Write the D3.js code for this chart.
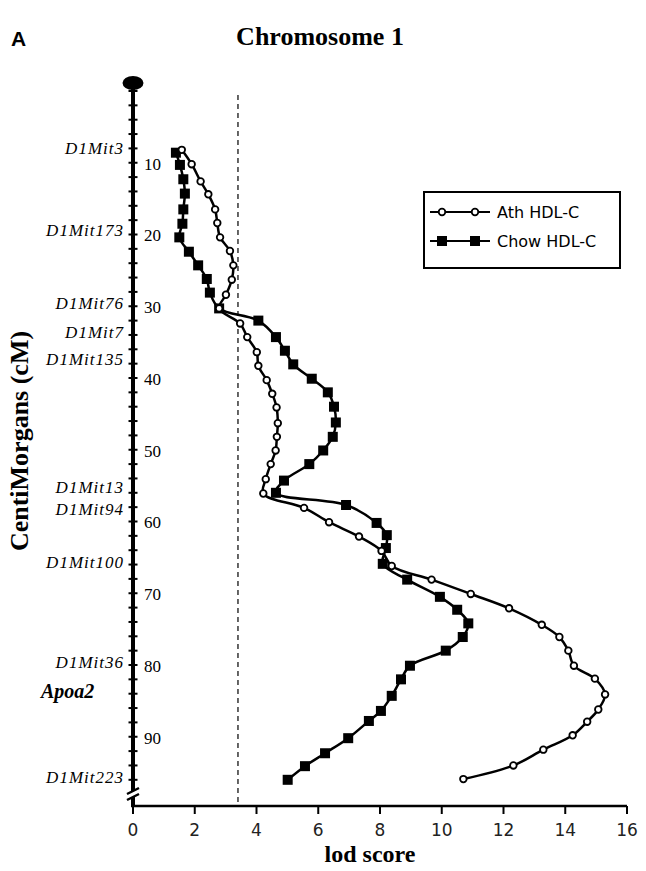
<!DOCTYPE html>
<html>
<head>
<meta charset="utf-8">
<script src="https://cdnjs.cloudflare.com/ajax/libs/d3/7.8.5/d3.min.js"></script>
<style>
  body { margin: 0; background: #fff; }
</style>
</head>
<body>
<div id="chart"></div>
<script>
// data
var athCM = [8.2, 10.2, 12.6, 14.4, 16.5, 18.4, 20.4, 22.3, 24.3, 26.3, 28.4, 30.3, 32.4, 34.3, 36.4, 38.3, 40.3, 42.2, 44.1, 46.3, 48.2, 50.1, 52.0, 54.1, 56.1, 58.1, 60.1, 62.1, 64.1, 66.2, 68.1, 70.1, 72.1, 74.4, 76.1, 78.0, 80.1, 81.9, 84.1, 86.2, 87.9, 89.8, 91.8, 94.0, 95.9];
var athLod = [1.58, 1.90, 2.19, 2.44, 2.66, 2.73, 2.82, 3.14, 3.25, 3.20, 3.01, 2.79, 3.47, 3.70, 4.01, 4.06, 4.33, 4.51, 4.65, 4.69, 4.66, 4.62, 4.46, 4.30, 4.22, 5.54, 6.35, 7.32, 8.05, 8.38, 9.67, 10.94, 12.18, 13.24, 13.81, 14.10, 14.28, 14.96, 15.29, 15.07, 14.71, 14.24, 13.29, 12.32, 10.70];

var chowCM = [8.6, 10.3, 12.3, 14.3, 16.5, 18.5, 20.4, 22.4, 24.3, 26.2, 28.1, 30.3, 32.0, 34.3, 36.2, 38.1, 40.1, 42.0, 44.0, 46.2, 48.2, 50.1, 52.0, 54.3, 56.0, 57.7, 60.2, 61.9, 63.7, 65.9, 68.1, 70.5, 72.3, 74.2, 76.1, 78.0, 80.1, 82.0, 84.3, 86.4, 87.8, 90.2, 92.3, 94.1, 96.0];
var chowLod = [1.39, 1.52, 1.63, 1.68, 1.63, 1.60, 1.50, 1.81, 2.11, 2.39, 2.49, 2.79, 4.06, 4.63, 4.92, 5.19, 5.79, 6.31, 6.51, 6.57, 6.47, 6.16, 5.71, 4.89, 4.63, 6.90, 7.89, 8.22, 8.19, 8.09, 8.88, 9.94, 10.50, 10.86, 10.68, 10.13, 8.97, 8.68, 8.38, 8.03, 7.64, 6.97, 6.22, 5.57, 5.01];

var markerNames = ["D1Mit3", "D1Mit173", "D1Mit76", "D1Mit7", "D1Mit135", "D1Mit13", "D1Mit94", "D1Mit100", "D1Mit36", "D1Mit223"];
var markerCM = [7.9, 19.4, 29.5, 33.6, 37.4, 55.2, 58.3, 65.6, 79.6, 95.6];
var geneName = "Apoa2";
var geneCM = 83.6;

var cmTicks = [10, 20, 30, 40, 50, 60, 70, 80, 90];
var lodTicks = [0, 2, 4, 6, 8, 10, 12, 14, 16];
var threshold = 3.4;

var seriesNames = ["Ath HDL-C", "Chow HDL-C"];

// chart area
var svgWidth = 646;
var svgHeight = 871;
var margin = { top: 91, left: 133 };
var width = 494;
var cmHeight = 717.5; // 0..100 cM
var axisY = 715; // where the lod axis sits

var svg = d3.select("#chart")
    .append("svg")
    .attr("width", svgWidth)
    .attr("height", svgHeight);

var g = svg.append("g")
    .attr("transform", `translate(${margin.left},${margin.top})`);

var x = d3.scaleLinear().domain([0, 16]).range([0, width]);
var y = d3.scaleLinear().domain([0, 100]).range([0, cmHeight]);

// titles
svg.append("text")
    .attr("x", 11).attr("y", 46)
    .attr("font-family", "Liberation Sans, Arial, sans-serif")
    .attr("font-weight", "bold")
    .attr("font-size", "21px")
    .text("A");

svg.append("text")
    .attr("x", 320).attr("y", 45)
    .attr("text-anchor", "middle")
    .attr("font-family", "Liberation Serif, Times New Roman, serif")
    .attr("font-weight", "bold")
    .attr("font-size", "26px")
    .text("Chromosome 1");

// dashed significance line
g.append("line")
    .attr("x1", x(threshold)).attr("x2", x(threshold))
    .attr("y1", 4).attr("y2", axisY)
    .attr("stroke", "#000")
    .attr("stroke-width", 1.2)
    .attr("stroke-dasharray", "5,4");

// chromosome (vertical axis)
g.append("line")
    .attr("x1", 0).attr("x2", 0)
    .attr("y1", -8).attr("y2", axisY)
    .attr("stroke", "#000")
    .attr("stroke-width", 4);

g.append("ellipse")
    .attr("cx", 0).attr("cy", -8)
    .attr("rx", 10.5).attr("ry", 7)
    .attr("fill", "#000");

g.selectAll(".cmtick")
    .data(d3.range(0, 99, 2))
    .enter()
    .append("line")
    .attr("class", "cmtick")
    .attr("x1", -4.5).attr("x2", 4.5)
    .attr("y1", d => y(d)).attr("y2", d => y(d))
    .attr("stroke", "#000")
    .attr("stroke-width", 2);

// break marks near the bottom
g.append("rect")
    .attr("x", -6).attr("y", 700)
    .attr("width", 12).attr("height", 6)
    .attr("fill", "#fff");
g.append("path")
    .attr("d", "M-6,703 L6,697 M-6,709 L6,703")
    .attr("stroke", "#000")
    .attr("stroke-width", 2.5)
    .attr("fill", "none");

g.selectAll(".cmlabel")
    .data(cmTicks)
    .enter()
    .append("text")
    .attr("class", "cmlabel")
    .attr("x", 11)
    .attr("y", d => y(d))
    .attr("dy", "0.4em")
    .attr("font-family", "Liberation Serif, Times New Roman, serif")
    .attr("font-size", "17px")
    .text(d => d);

// marker names
g.selectAll(".marker")
    .data(markerNames)
    .enter()
    .append("text")
    .attr("class", "marker")
    .attr("x", -9)
    .attr("y", (d, i) => y(markerCM[i]))
    .attr("dy", "0.35em")
    .attr("text-anchor", "end")
    .attr("font-family", "Liberation Serif, Times New Roman, serif")
    .attr("font-style", "italic")
    .attr("font-size", "17px")
    .attr("letter-spacing", "1px")
    .text(d => d);

g.append("text")
    .attr("x", -92)
    .attr("y", y(geneCM))
    .attr("dy", "0.35em")
    .attr("font-family", "Liberation Serif, Times New Roman, serif")
    .attr("font-style", "italic")
    .attr("font-weight", "bold")
    .attr("font-size", "20px")
    .text(geneName);

// y label
svg.append("text")
    .attr("transform", "translate(28,441) rotate(-90)")
    .attr("text-anchor", "middle")
    .attr("font-family", "Liberation Serif, Times New Roman, serif")
    .attr("font-weight", "bold")
    .attr("font-size", "26px")
    .text("CentiMorgans (cM)");

// lod axis
g.append("line")
    .attr("x1", -2).attr("x2", width)
    .attr("y1", axisY).attr("y2", axisY)
    .attr("stroke", "#000")
    .attr("stroke-width", 2.5);

g.selectAll(".lodtick")
    .data(lodTicks)
    .enter()
    .append("line")
    .attr("class", "lodtick")
    .attr("x1", d => x(d)).attr("x2", d => x(d))
    .attr("y1", axisY).attr("y2", axisY + 8)
    .attr("stroke", "#000")
    .attr("stroke-width", 2);

g.selectAll(".lodlabel")
    .data(lodTicks)
    .enter()
    .append("text")
    .attr("class", "lodlabel")
    .attr("x", d => x(d))
    .attr("y", axisY + 30)
    .attr("text-anchor", "middle")
    .attr("font-family", "DejaVu Sans, sans-serif")
    .attr("font-size", "17px")
    .attr("fill", "#222")
    .text(d => d);

svg.append("text")
    .attr("x", 370).attr("y", 862)
    .attr("text-anchor", "middle")
    .attr("font-family", "Liberation Serif, Times New Roman, serif")
    .attr("font-weight", "bold")
    .attr("font-size", "24px")
    .text("lod score");

// curves
var line = d3.line()
    .x(d => x(d[1]))
    .y(d => y(d[0]))
    .curve(d3.curveCatmullRom.alpha(0.5));

var ath = d3.zip(athCM, athLod);
var chow = d3.zip(chowCM, chowLod);

g.append("path")
    .datum(chow)
    .attr("d", line)
    .attr("fill", "none")
    .attr("stroke", "#000")
    .attr("stroke-width", 2.5);

g.append("path")
    .datum(ath)
    .attr("d", line)
    .attr("fill", "none")
    .attr("stroke", "#000")
    .attr("stroke-width", 2.5);

g.selectAll(".sq")
    .data(chow)
    .enter()
    .append("rect")
    .attr("class", "sq")
    .attr("x", d => x(d[1]) - 5)
    .attr("y", d => y(d[0]) - 5)
    .attr("width", 10).attr("height", 10)
    .attr("fill", "#000");

g.selectAll(".dot")
    .data(ath)
    .enter()
    .append("circle")
    .attr("class", "dot")
    .attr("cx", d => x(d[1]))
    .attr("cy", d => y(d[0]))
    .attr("r", 3.3)
    .attr("fill", "#fff")
    .attr("stroke", "#000")
    .attr("stroke-width", 1.8);

// legend
var legend = svg.append("g");
legend.append("rect")
    .attr("x", 424).attr("y", 192)
    .attr("width", 196).attr("height", 76)
    .attr("fill", "#fff")
    .attr("stroke", "#000")
    .attr("stroke-width", 2);

var legY = [212, 241];
seriesNames.forEach((name, i) => {
    legend.append("line")
        .attr("x1", 430).attr("x2", 490)
        .attr("y1", legY[i]).attr("y2", legY[i])
        .attr("stroke", "#000")
        .attr("stroke-width", 2);
    [442, 475].forEach(mx => {
        if (i == 0) {
            legend.append("circle")
                .attr("cx", mx).attr("cy", legY[i]).attr("r", 3.3)
                .attr("fill", "#fff").attr("stroke", "#000").attr("stroke-width", 1.8);
        } else {
            legend.append("rect")
                .attr("x", mx - 5).attr("y", legY[i] - 5)
                .attr("width", 10).attr("height", 10)
                .attr("fill", "#000");
        }
    });
    legend.append("text")
        .attr("x", 497).attr("y", legY[i])
        .attr("dy", "0.36em")
        .attr("font-family", "DejaVu Sans, sans-serif")
        .attr("font-size", "16px")
        .text(name);
});
</script>
</body>
</html>
